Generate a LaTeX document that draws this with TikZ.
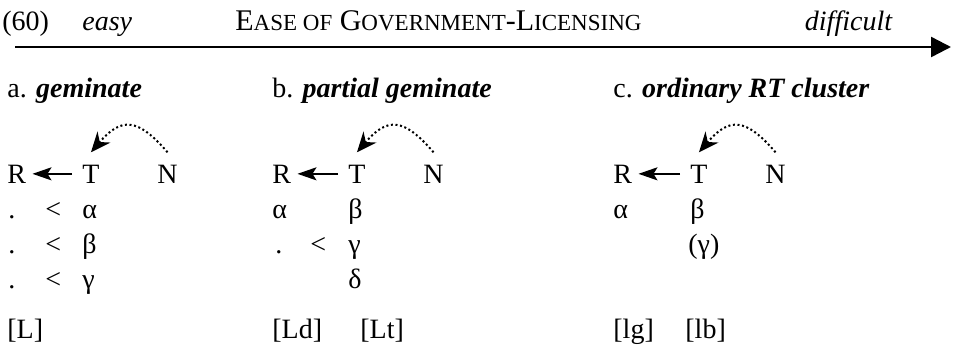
\documentclass[tikz,border=0pt]{standalone}
\usepackage{fontspec}
\setmainfont{Liberation Serif}
\usetikzlibrary{arrows.meta,positioning}
\newcommand{\fakesc}[1]{{\fontsize{11.5}{13}\selectfont #1}}
\tikzset{
  seg/.style={inner sep=0pt, anchor=base west, font=\fontsize{14}{16}\selectfont},
  segr/.style={seg, anchor=base east},
  scalearrow/.style={-{Triangle[length=10pt,width=10pt]}, line width=1.2pt},
  licarrow/.style={-{Stealth[length=9.5pt,width=6.5pt,inset=2pt]}, line width=1pt,
                   shorten <=5pt, shorten >=3pt},
  govarc/.style={-{Stealth[length=10pt,width=8.5pt]}, line width=1pt,
                 dash pattern=on 1pt off 1.3pt},
}

\begin{document}
\begin{tikzpicture}[x=0.5pt, y=-0.5pt]
    \useasboundingbox (0,0) rectangle (953,349);
    % scale of government-licensing
    \node[seg] (num) at (2,30) {(60)};
    \node[seg] (easy) at (82,30) {\textit{easy}};
    \node[seg, font=\fontsize{15}{17}\selectfont] (scaletitle) at (235,30) {E\fakesc{ASE OF} G\fakesc{OVERNMENT}-L\fakesc{ICENSING}};
    \node[segr] (hard) at (893,30) {\textit{difficult}};
    \coordinate (scl-start) at (15,47);
    \coordinate (scl-end) at (951,47);
    \draw[scalearrow] (scl-start) -- (scl-end);

    % a. geminate
    \node[seg] (heada) at (7,97) {a. \textbf{\textit{geminate}}};
    \node[seg] (Ra) at (7,183) {R};
    \node[seg] (Ta) at (82,183) {T};
    \node[seg] (Na) at (157,183) {N};
    \node[seg] (a-dot1) at (8,218) {.};
    \node[seg] (a-lt1) at (45,218) {<};
    \node[seg] (a-alpha) at (82,218) {α};
    \node[seg] (a-dot2) at (8,253) {.};
    \node[seg] (a-lt2) at (45,253) {<};
    \node[seg] (a-beta) at (82,253) {β};
    \node[seg] (a-dot3) at (8,288) {.};
    \node[seg] (a-lt3) at (45,288) {<};
    \node[seg] (a-gamma) at (82,288) {γ};
    \node[seg] (a-L) at (7,338) {[L]};
    \draw[licarrow] (Ta.west) -- (Ra.east);
    \draw[govarc] ([yshift=6pt]Na.north) .. controls +(-15pt,17.5pt) and +(15pt,17.5pt) .. ([yshift=6pt]Ta.north);

    % b. partial geminate
    \node[seg] (headb) at (272,97) {b. \textbf{\textit{partial geminate}}};
    \node[seg] (Rb) at (272,183) {R};
    \node[seg] (Tb) at (348,183) {T};
    \node[seg] (Nb) at (423,183) {N};
    \node[seg] (b-alpha) at (272,218) {α};
    \node[seg] (b-beta) at (348,218) {β};
    \node[seg] (b-dot) at (275,253) {.};
    \node[seg] (b-lt) at (310,253) {<};
    \node[seg] (b-gamma) at (348,253) {γ};
    \node[seg] (b-delta) at (348,288) {δ};
    \node[seg] (b-Ld) at (272,338) {[Ld]};
    \node[seg] (b-Lt) at (360,338) {[Lt]};
    \draw[licarrow] (Tb.west) -- (Rb.east);
    \draw[govarc] ([yshift=6pt]Nb.north) .. controls +(-15pt,17.5pt) and +(15pt,17.5pt) .. ([yshift=6pt]Tb.north);

    % c. ordinary RT cluster
    \node[seg] (headc) at (613,97) {c. \textbf{\textit{ordinary RT cluster}}};
    \node[seg] (Rc) at (613,183) {R};
    \node[seg] (Tc) at (690,183) {T};
    \node[seg] (Nc) at (765,183) {N};
    \node[seg] (c-alpha) at (613,218) {α};
    \node[seg] (c-beta) at (690,218) {β};
    \node[seg] (c-gamma) at (688,253) {(γ)};
    \node[seg] (c-lg) at (613,338) {[lg]};
    \node[seg] (c-lb) at (685,338) {[lb]};
    \draw[licarrow] (Tc.west) -- (Rc.east);
    \draw[govarc] ([yshift=6pt]Nc.north) .. controls +(-15pt,17.5pt) and +(15pt,17.5pt) .. ([yshift=6pt]Tc.north);
\end{tikzpicture}
\end{document}
